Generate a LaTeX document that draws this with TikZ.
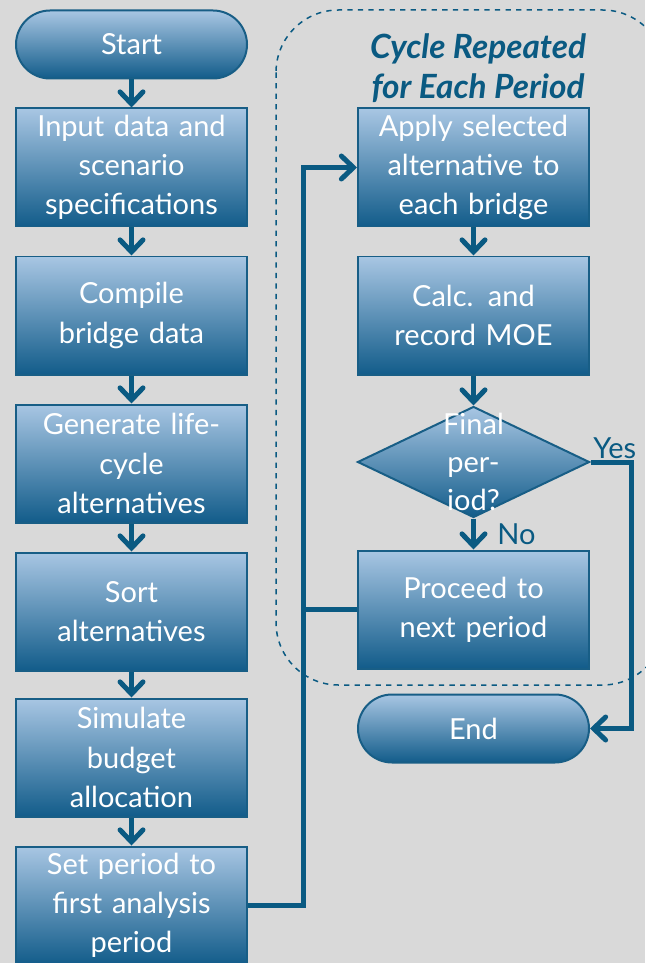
\documentclass[tikz,border=0pt]{standalone}
\usepackage{fontspec}
\setmainfont{Lato}
\usetikzlibrary{arrows.meta,positioning,shapes.geometric,calc}
\definecolor{PaleGray}{RGB}{217,217,217}
\definecolor{SkyTop}{RGB}{168,198,227}
\definecolor{DeepBlue}{RGB}{18,92,138}
\definecolor{EdgeBlue}{RGB}{24,94,134}
\definecolor{FlowBlue}{RGB}{10,90,130}
\tikzset{
  stepbox/.style={draw=EdgeBlue,line width=0.04cm,top color=SkyTop,bottom color=DeepBlue,
    text=white,minimum width=4.62cm,minimum height=2.36cm,text width=4.5cm,
    inner sep=0.05cm,align=center,font=\fontsize{16.5}{22.3}\selectfont},
  terminal/.style={stepbox,rounded corners=0.68cm,minimum height=1.36cm},
  decision/.style={diamond,draw=EdgeBlue,line width=0.04cm,top color=SkyTop,
    bottom color=DeepBlue,minimum width=4.64cm,minimum height=2.22cm,inner sep=0pt},
  flow/.style={line width=0.1cm,FlowBlue,
    -{Straight Barb[length=0.24cm,width=0.46cm,line cap=round]}},
  link/.style={line width=0.1cm,FlowBlue},
  lbl/.style={text=FlowBlue,inner sep=0.05cm,font=\fontsize{16.5}{22}\selectfont}
}

\begin{document}
\begin{tikzpicture}
  \fill[PaleGray] (0,0) rectangle (12.9,-19.26);
  \useasboundingbox (0,0) rectangle (12.9,-19.26);

  % repeated cycle frame
  \draw[FlowBlue,line width=0.03cm,dashed,rounded corners=1.25cm]
    (5.52,-0.2) rectangle (13.3,-13.7);
  \node[text=FlowBlue,align=center,font=\fontsize{19}{23}\selectfont\bfseries\itshape]
    (cycle) at (9.56,-1.36) {Cycle Repeated\\for Each Period};

  % setup column
  \node[terminal] (start) at (2.63,-0.89) {Start};
  \node[stepbox,below=0.56cm of start] (input) {Input data and\\scenario\\specifications};
  \node[stepbox,below=0.56cm of input] (compile) {Compile\\bridge data};
  \node[stepbox,below=0.56cm of compile] (generate) {Generate life-\\cycle\\alternatives};
  \node[stepbox,below=0.56cm of generate] (sort) {Sort\\alternatives};
  \node[stepbox,below=0.52cm of sort] (simulate) {Simulate\\budget\\allocation};
  \node[stepbox,below=0.56cm of simulate] (setper) {Set period to\\first analysis\\period};

  % period column
  \node[stepbox,right=2.18cm of input] (apply) {Apply selected\\alternative to\\each bridge};
  \node[stepbox,below=0.56cm of apply] (calc) {Calc. and\\record MOE};
  \node[decision,below=0.6cm of calc] (final) {};
  \node[text=white,align=center,font=\fontsize{16.5}{21.8}\selectfont]
    (finaltext) at (final.center) {Final\\per-\\iod?};
  \node[stepbox,below=0.62cm of final] (proceed) {Proceed to\\next period};
  \node[terminal,below=0.48cm of proceed] (theend) {End};

  \draw[flow] (start) -- (input);
  \draw[flow] (input) -- (compile);
  \draw[flow] (compile) -- (generate);
  \draw[flow] (generate) -- (sort);
  \draw[flow] (sort) -- (simulate);
  \draw[flow] (simulate) -- (setper);
  \draw[flow] (apply) -- (calc);
  \draw[flow] (calc) -- (final);
  \draw[flow] (final) -- (proceed);

  % loop back to the top of the cycle
  \coordinate (bus) at (6.06,0);
  \draw[flow] (setper.east) -| (bus |- apply.west) -- (apply.west);
  \draw[link] (proceed.west) -- (bus |- proceed.west);

  % exit when the last period is done
  \coordinate (exit) at ($(final.east)+(0.82,0)$);
  \draw[flow] (final.east) -- (exit) |- (theend.east);
  \node[lbl,anchor=south west] (yes) at (final.east) {Yes};
  \node[lbl,anchor=west] (no) at ($(final.south)!0.5!(proceed.north)+(0.42,0)$) {No};
\end{tikzpicture}
\end{document}
